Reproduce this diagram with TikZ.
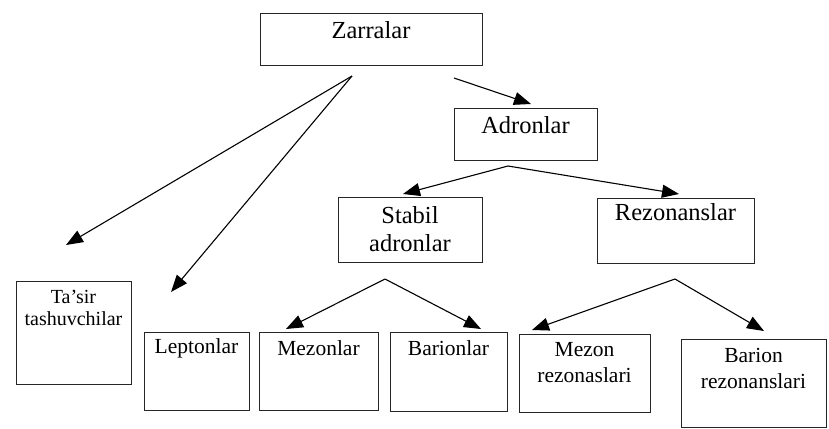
\documentclass[tikz,border=0pt]{standalone}
\usepackage{fontspec}
\setmainfont{Liberation Serif}
\usetikzlibrary{arrows.meta}
\begin{document}
\begin{tikzpicture}[x=1pt,y=-1pt,
  box/.style={draw=black!85,line width=0.9pt,inner sep=0pt},
  big/.style={font=\fontsize{24.5}{28}\selectfont,inner sep=0pt,align=center},
  small/.style={font=\fontsize{21.5}{26}\selectfont,inner sep=0pt,align=center},
  tiny/.style={font=\fontsize{20}{22}\selectfont,inner sep=0pt,align=center},
  arr/.style={line width=1.1pt,-{Triangle[length=17pt,width=13pt]}}]
\useasboundingbox (0,0) rectangle (829,428);
% boxes
\node[box,minimum width=222pt,minimum height=52pt] (z) at (371,39) {};
\node[box,minimum width=143pt,minimum height=52pt] (a) at (525.5,134) {};
\node[box,minimum width=144pt,minimum height=65pt] (s) at (410,229.5) {};
\node[box,minimum width=157pt,minimum height=65pt] (r) at (675.5,230.5) {};
\node[box,minimum width=115pt,minimum height=103pt] (t) at (73.5,332.5) {};
\node[box,minimum width=105pt,minimum height=78pt] (l) at (196.5,371) {};
\node[box,minimum width=119pt,minimum height=78pt] (m) at (318.5,371) {};
\node[box,minimum width=117pt,minimum height=79pt] (b) at (448.5,371.5) {};
\node[box,minimum width=131pt,minimum height=78pt] (mr) at (584.5,373) {};
\node[box,minimum width=145pt,minimum height=88pt] (br) at (753.5,383) {};
% texts
\node[big] (zt) at (371,30) {Zarralar};
\node[big] (at) at (525.5,125) {Adronlar};
\node[big] (st) at (410,229) {Stabil\\adronlar};
\node[big] (rt) at (675.5,212) {Rezonanslar};
\node[tiny] (tt) at (73.5,308) {Ta'sir\\tashuvchilar};
\node[small] (lt) at (196.5,348) {Leptonlar};
\node[small] (mt) at (318.5,348) {Mezonlar};
\node[small] (bt) at (448.5,348) {Barionlar};
\node[small] (mrt) at (584.5,363) {Mezon\\rezonaslari};
\node[small] (brt) at (753.5,368.5) {Barion\\rezonanslari};
% junctions and tips
\coordinate (zj) at (352,76);
\coordinate (zj2) at (454,78);
\coordinate (aj) at (508,166);
\coordinate (sj) at (385,279);
\coordinate (rj) at (675,279);
\coordinate (tT) at (66,245);
\coordinate (tL) at (171,292);
\coordinate (tA) at (531,104);
\coordinate (tS) at (403,194);
\coordinate (tR) at (679,194);
\coordinate (tM) at (286,329);
\coordinate (tB) at (481,329);
\coordinate (tMR) at (532,330);
\coordinate (tBR) at (764,331);
% arrows
\draw[arr] (zj) -- (tT);
\draw[arr] (zj) -- (tL);
\draw[arr] (zj2) -- (tA);
\draw[arr] (aj) -- (tS);
\draw[arr] (aj) -- (tR);
\draw[arr] (sj) -- (tM);
\draw[arr] (sj) -- (tB);
\draw[arr] (rj) -- (tMR);
\draw[arr] (rj) -- (tBR);
\end{tikzpicture}
\end{document}
